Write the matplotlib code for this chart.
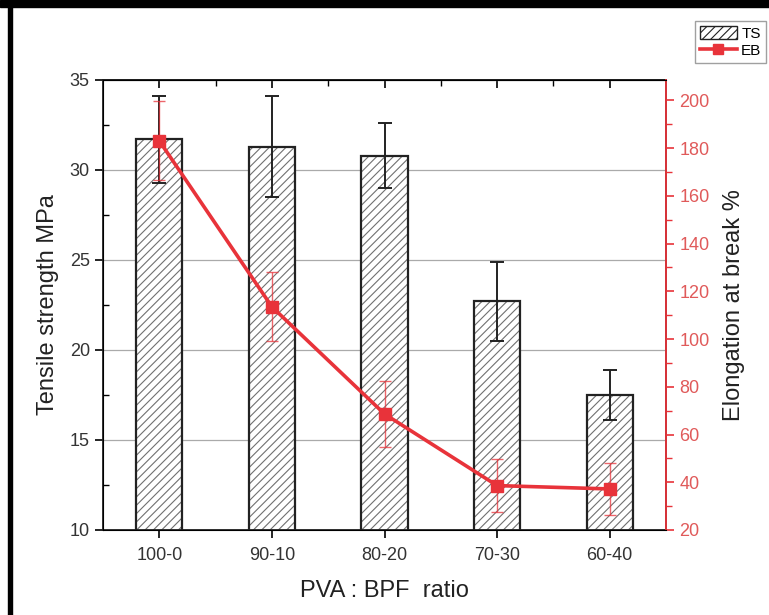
import matplotlib.pyplot as plt
import matplotlib.patches as mpatches
from matplotlib.lines import Line2D
from matplotlib.ticker import MultipleLocator, FixedLocator
import numpy as np

plt.rcParams['font.family'] = ['Liberation Sans', 'DejaVu Sans']
plt.rcParams['hatch.linewidth'] = 0.8

ratios = ['100-0', '90-10', '80-20', '70-30', '60-40']
ts = [31.7, 31.3, 30.8, 22.7, 17.5]
ts_err = [2.4, 2.8, 1.8, 2.2, 1.4]
eb = [183, 113.5, 68.6, 38.6, 37.2]
eb_err = [16.5, 14.5, 14.0, 11.0, 11.0]

red = '#e8333a'
x = np.arange(len(ratios))

fig = plt.figure(figsize=(7.69, 6.15), dpi=100)
ax = fig.add_axes([103 / 769, 1 - 530 / 615, 563 / 769, 450 / 615])

# bars: gray hatch first, then black outline on top
ax.bar(x, ts, width=0.41, bottom=0, color='white', edgecolor='#707070',
       hatch='////', linewidth=0, zorder=2)
ax.bar(x, ts, width=0.41, fill=False, edgecolor='#222222', linewidth=1.6, zorder=3)
ax.errorbar(x, ts, yerr=ts_err, fmt='none', ecolor='#222222', elinewidth=1.4,
            capsize=5, capthick=1.4, zorder=4)

ax.set_xlim(-0.5, 4.5)
ax.set_ylim(10, 35)
ax.set_xticks(x)
ax.set_xticklabels(ratios)
ax.yaxis.set_major_locator(MultipleLocator(5))
ax.yaxis.set_minor_locator(MultipleLocator(2.5))
ax.yaxis.grid(True, color='#aaaaaa', linewidth=0.9, zorder=0)
ax.set_axisbelow(True)
ax.tick_params(axis='y', which='major', direction='out', length=6, width=1.2,
               labelsize=13, labelcolor='#333333')
ax.tick_params(axis='y', which='minor', direction='in', length=4, width=1.0)
ax.tick_params(axis='x', which='major', direction='out', length=6, width=1.2,
               labelsize=13, labelcolor='#333333', pad=6)
for s in ax.spines.values():
    s.set_linewidth(1.3)
    s.set_color('#222222')
ax.set_ylabel('Tensile strength MPa', fontsize=17, color='#222222', labelpad=8)
ax.set_xlabel('PVA : BPF  ratio', fontsize=17, color='#222222', labelpad=12)

# top ticks pointing inward with minor ticks between bars
sec = ax.secondary_xaxis('top')
sec.set_xticks(x)
sec.xaxis.set_minor_locator(FixedLocator(x[:-1] + 0.5))
sec.tick_params(which='major', direction='in', length=6, width=1.2, labeltop=False)
sec.tick_params(which='minor', direction='in', length=4, width=1.0)
sec.spines['top'].set_linewidth(1.3)

ax2 = ax.twinx()
ax2.errorbar(x, eb, yerr=eb_err, fmt='none', ecolor=red, elinewidth=1.0,
             capsize=4, capthick=1.0, alpha=0.75, zorder=3)
ax2.plot(x, eb, color=red, linewidth=2.6, marker='s', markersize=8, zorder=4)
ax2.set_ylim(20, 208.5)
ax2.yaxis.set_major_locator(MultipleLocator(20))
ax2.yaxis.set_minor_locator(MultipleLocator(10))
ax2.spines['right'].set_color(red)
ax2.spines['right'].set_linewidth(1.3)
ax2.tick_params(axis='y', which='major', colors=red, direction='out', length=6,
                width=1.2, labelsize=13)
ax2.tick_params(axis='y', which='minor', colors=red, direction='out', length=4, width=1.0)
for lab in ax2.get_yticklabels():
    lab.set_color('#e05a5a')
ax2.set_ylabel('Elongation at break %', fontsize=17, color='#222222', labelpad=10)

handles = [mpatches.Patch(facecolor='white', edgecolor='#222222', hatch='////', label='TS'),
           Line2D([], [], color=red, linewidth=2.6, marker='s', markersize=7, label='EB')]
fig.legend(handles=handles, loc='upper right', bbox_to_anchor=(766 / 769, 1 - 21 / 615),
           fontsize=11, frameon=True, fancybox=False, edgecolor='#888888',
           handlelength=2.4, handleheight=1.0, handletextpad=0.3, borderpad=0.3,
           labelspacing=0.15, borderaxespad=0)

# image frame lines (top and left)
fig.add_artist(mpatches.Rectangle((0, 1 - 7 / 615), 1, 7 / 615, transform=fig.transFigure,
                                  color='black', zorder=10))
fig.add_artist(mpatches.Rectangle((8 / 769, 0), 4 / 769, 1, transform=fig.transFigure,
                                  color='black', zorder=10))

fig.savefig('out.png', dpi=100)
